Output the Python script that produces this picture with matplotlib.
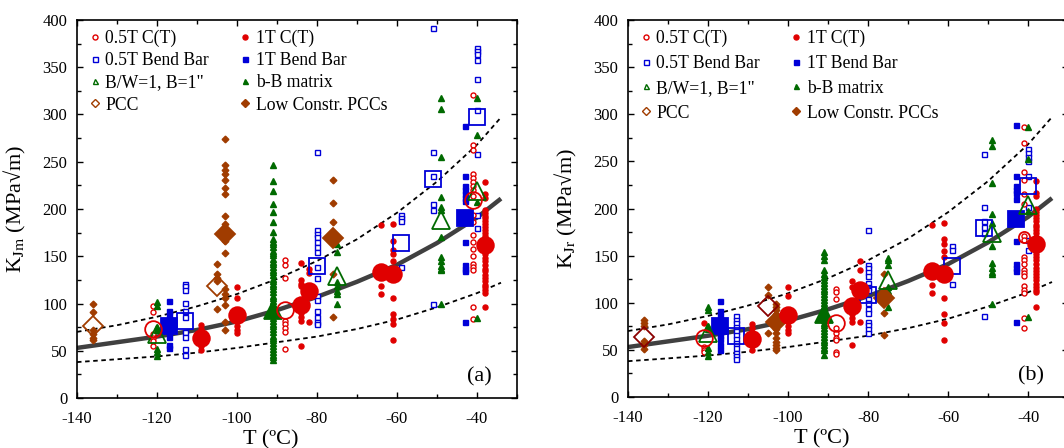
import numpy as np
import matplotlib
matplotlib.use("Agg")
import matplotlib.pyplot as plt
from matplotlib.lines import Line2D
from matplotlib.ticker import MultipleLocator

plt.rcParams["font.family"] = ["Liberation Serif", "DejaVu Serif"]
plt.rcParams["mathtext.fontset"] = "stix"
plt.rcParams["axes.unicode_minus"] = False

RED = "#e00000"
BLUE = "#0000d8"
GREEN = "#006a00"
BROWN = "#a03c00"
MAROON = "#8b0000"

# master curve and 5% / 95% bounds (every 10 C)
CURVE_T = [-140, -130, -120, -110, -100, -90, -80, -70, -60, -50, -40, -34]
MED_K = [53, 59, 65, 72, 81, 93, 107, 123, 141, 164, 191, 211]
UP_K = [70, 77, 86, 97, 110, 126, 145, 168, 196, 229, 268, 297]
LOW_K = [38, 41, 44, 48, 53, 59, 65, 73, 83, 96, 111, 122]

# ---- panel (a): K_Jm, columns of (T, [K values]) ----
A_CT05 = [(-121, [97, 91, 68, 64, 60, 55]),
          (-88, [146, 141, 127, 82, 78, 74, 70, 52]),
          (-41, [321, 268, 262, 237, 233, 229, 224, 220, 214, 194, 186, 172,
                 165, 158, 150, 142, 139, 135, 96, 84])]
A_CT1 = [(-109, [77, 73, 55, 51]),
         (-100, [117, 106, 76, 72, 69]),
         (-84, [143, 125, 121, 118, 90, 86, 82, 55]),
         (-82, [137, 132, 110, 80]),
         (-64, [183, 139, 130, 119, 110]),
         (-61, [184, 166, 157, 152, 145, 106, 89, 84, 78, 61]),
         (-38, [229, 216, 212, 199, 196, 193, 190, 187, 184, 181, 178, 175, 171,
                167, 164, 160, 156, 152, 148, 145, 141, 137, 134, 130, 127, 124,
                120, 117, 114, 111, 96])]
A_BB05 = [(-113, [121, 118, 114, 101, 92, 86, 70, 65, 52, 46]),
          (-80, [260, 178, 174, 170, 165, 160, 155, 139, 127, 108, 104, 92, 86, 80, 78]),
          (-59, [194, 190, 187, 139]),
          (-51, [392, 260, 235, 205, 199, 99]),
          (-40, [370, 367, 364, 358, 338, 305, 258, 194, 180])]
A_BB1 = [(-117, [103, 92, 88, 84, 80, 70, 65, 56, 53]),
         (-43, [288, 235, 224, 220, 216, 212, 208, 165, 141, 137, 134, 80])]
A_BW = [(-120, [102, 97, 75, 72, 52, 49, 44]),
        (-75, [163, 155, 123, 118, 113, 110, 99]),
        (-49, [317, 306, 255, 213, 202, 199, 170, 149, 145, 140, 137, 135, 100]),
        (-40, [317, 278, 207, 85])]
A_BBM = [(-91, [247, 230, 219, 205, 197, 186, 176, 168, 165, 163, 160, 156, 153,
                151, 147, 144, 142, 139, 135, 133, 130, 126, 124, 121, 118, 115,
                112, 108, 106, 103, 100, 97, 94, 91, 88, 85, 82, 78, 76, 73, 70,
                66, 64, 61, 58, 55, 52, 49, 46, 43, 40])]
A_PCC = [(-136, [99, 91, 72, 68, 64, 61]),
         (-105, [142, 131, 127, 124, 94])]
A_LC = [(-103, [274, 247, 241, 237, 231, 222, 216, 193, 184, 166, 153, 115, 110,
                106, 98, 80, 72]),
        (-76, [231, 206, 186, 131, 86])]

# large symbols (mean values) in panel (a)
A_CT05_M = [(-121, 73), (-88, 93), (-41, 210)]
A_CT1_M = [(-109, 63), (-100, 88), (-84, 98), (-82, 113), (-64, 133), (-61, 131), (-38, 162)]
A_BB05_M = [(-113, 82), (-80, 140), (-59, 164), (-51, 232), (-40, 297)]
A_BB1_M = [(-117, 76), (-43, 190)]
A_BW_M = [(-120, 68), (-75, 129), (-49, 188), (-40, 219)]
A_BBM_M = [(-91, 93)]
A_PCC_M = [(-136, 76), (-105, 118)]
A_LC_M = [(-103, 174), (-76, 169)]

# ---- panel (b): K_Jr ----
B_CT05 = [(-121, [53, 50, 48]),
          (-88, [115, 111, 104, 73, 68, 63, 60, 48, 46]),
          (-41, [287, 270, 239, 230, 215, 205, 171, 167, 149, 145, 141, 135, 132,
                 128, 118, 114, 110, 84, 73])]
B_CT1 = [(-121, [78]),
         (-109, [77, 73, 55, 50]),
         (-100, [117, 107, 75, 71, 68]),
         (-84, [123, 117, 88, 84, 80, 55]),
         (-82, [144, 135, 80]),
         (-64, [183, 138, 119, 110]),
         (-61, [185, 168, 162, 155, 149, 105, 88, 78, 61]),
         (-38, [229, 216, 213, 199, 196, 193, 190, 187, 183, 180, 177, 174, 170,
                167, 163, 160, 156, 152, 149, 145, 141, 137, 134, 130, 127, 124,
                120, 117, 114, 111, 96])]
B_BB05 = [(-113, [86, 82, 78, 74, 70, 66, 62, 57, 52, 47, 43, 40]),
          (-80, [177, 140, 137, 133, 128, 121, 117, 113, 104, 100, 93, 89, 80, 76, 72, 68]),
          (-59, [160, 156, 120]),
          (-51, [258, 202, 187, 180, 174, 86]),
          (-40, [263, 259, 255, 250, 234, 202, 167, 156])]
B_BB1 = [(-117, [102, 91, 86, 82, 78, 66, 62, 55, 50]),
         (-43, [289, 235, 224, 220, 216, 210, 165, 141, 137, 134, 80])]
B_BW = [(-120, [95, 92, 75, 72, 52, 48, 44]),
        (-75, [148, 145, 140, 117, 112, 96]),
        (-49, [273, 266, 227, 194, 185, 160, 142, 137, 133, 131, 99]),
        (-40, [287, 253, 197, 85])]
B_BBM = [(-91, [154, 150, 145, 135, 130, 127, 124, 121, 118, 115, 112, 109, 106,
                103, 100, 97, 94, 91, 88, 85, 82, 79, 76, 73, 70, 67, 64, 61, 58,
                55, 52, 50, 45])]
B_PCC = [(-136, [82, 78, 75, 59, 55, 51]),
         (-105, [117, 108, 68])]
B_LC = [(-103, [99, 95, 92, 88, 85, 80, 76, 72, 68, 63, 58, 55, 52, 50]),
        (-76, [131, 89, 66])]

B_CT05_M = [(-121, 63), (-88, 78), (-41, 170)]
B_CT1_M = [(-109, 62), (-100, 87), (-84, 97), (-82, 113), (-64, 134), (-61, 130), (-38, 162)]
B_BB05_M = [(-113, 65), (-80, 108), (-59, 139), (-51, 179), (-40, 224)]
B_BB1_M = [(-117, 75), (-43, 189)]
B_BW_M = [(-120, 68), (-75, 124), (-49, 174), (-40, 204)]
B_BBM_M = [(-91, 88)]
B_PCC_M = [(-136, 64), (-105, 97)]
B_LC_M = [(-103, 80), (-76, 105)]

LEGEND_LABELS = ["0.5T C(T)", "0.5T Bend Bar", 'B/W=1, B=1"', "PCC",
                 "1T C(T)", "1T Bend Bar", "b-B matrix", "Low Constr. PCCs"]


def expand(cols):
    t, k = [], []
    for temp, vals in cols:
        t += [temp] * len(vals)
        k += list(vals)
    return np.array(t), np.array(k)


def small(ax, cols, marker, color, filled, ms=3.6):
    t, k = expand(cols)
    ax.plot(t, k, ls="none", marker=marker, ms=ms, mec=color,
            mfc=color if filled else "white", mew=1.0, zorder=3)


def big(ax, pts, marker, color, filled, ms=11):
    t = [p[0] for p in pts]
    k = [p[1] for p in pts]
    ax.plot(t, k, ls="none", marker=marker, ms=ms, mec=color,
            mfc=color if filled else "none", mew=1.3, zorder=4)


def draw_panel(ax, d, pcc_big_color, ylabel, tag, legend_spacing):
    ax.plot(CURVE_T, MED_K, color="#404040", lw=3.2, zorder=2, solid_capstyle="butt")
    ax.plot(CURVE_T, UP_K, color="black", lw=1.3, ls=(0, (2.5, 2)), zorder=2)
    ax.plot(CURVE_T, LOW_K, color="black", lw=1.3, ls=(0, (2.5, 2)), zorder=2)

    small(ax, d["LC"], "D", BROWN, True, 3.4)
    small(ax, d["PCC"], "D", BROWN, True, 3.4)
    small(ax, d["BB05"], "s", BLUE, False)
    small(ax, d["BB1"], "s", BLUE, True)
    small(ax, d["CT05"], "o", RED, False)
    small(ax, d["CT1"], "o", RED, True)
    small(ax, d["BW"], "^", GREEN, True, 4.2)
    small(ax, d["BBM"], "^", GREEN, True, 4.2)

    big(ax, d["PCC_M"], "D", pcc_big_color, False, 10)
    big(ax, d["LC_M"], "D", BROWN, True, 10)
    big(ax, d["BB05_M"], "s", BLUE, False, 11)
    big(ax, d["BB1_M"], "s", BLUE, True, 11)
    big(ax, d["BBM_M"], "^", GREEN, True, 13)
    big(ax, d["BW_M"], "^", GREEN, False, 13)
    big(ax, d["CT05_M"][:2], "o", RED, False, 12)
    big(ax, d["CT05_M"][2:], "o", RED, False, d["CT05_last_ms"])
    big(ax, d["CT1_M"], "o", RED, True, 12)

    ax.set_xlim(-140, -30)
    ax.set_ylim(0, 400)
    ax.set_xticks(np.arange(-140, -39, 20))
    ax.set_yticks(np.arange(0, 401, 50))
    ax.xaxis.set_minor_locator(MultipleLocator(10))
    ax.yaxis.set_minor_locator(MultipleLocator(25))
    ax.tick_params(which="both", direction="in", top=True, right=True,
                   labelsize=12)
    ax.tick_params(axis="x", pad=9.5)
    ax.tick_params(axis="y", pad=7)
    ax.tick_params(which="major", length=4, width=1)
    ax.tick_params(which="minor", length=3, width=1)
    for sp in ax.spines.values():
        sp.set_linewidth(1.2)

    ax.set_xlabel("T (ºC)", fontsize=16)
    ax.set_ylabel(ylabel, fontsize=16)
    ax.yaxis.set_label_coords(-0.112, 0.5)
    ax.xaxis.set_label_coords(0.44, -0.085)
    ax.text(0.915, 0.055, tag, transform=ax.transAxes, fontsize=16,
            ha="center", va="center")

    specs = [("o", RED, False), ("s", BLUE, False), ("^", GREEN, False),
             ("D", BROWN, False), ("o", RED, True), ("s", BLUE, True),
             ("^", GREEN, True), ("D", BROWN, True)]
    handles = [Line2D([], [], ls="none", marker=m, ms=3.6, mec=c,
                      mfc=c if f else "white", mew=1.0) for m, c, f in specs]
    ax.legend(handles, LEGEND_LABELS, ncol=2, loc="upper left",
              bbox_to_anchor=(0.03, 0.975), frameon=False, fontsize=12.7,
              handlelength=0.5, handletextpad=0.35, columnspacing=1.8,
              labelspacing=legend_spacing, borderpad=0, borderaxespad=0)


panel_a = dict(CT05=A_CT05, CT1=A_CT1, BB05=A_BB05, BB1=A_BB1, BW=A_BW, BBM=A_BBM,
               PCC=A_PCC, LC=A_LC, CT05_M=A_CT05_M, CT1_M=A_CT1_M, BB05_M=A_BB05_M,
               BB1_M=A_BB1_M, BW_M=A_BW_M, BBM_M=A_BBM_M, PCC_M=A_PCC_M, LC_M=A_LC_M,
               CT05_last_ms=12)
panel_b = dict(CT05=B_CT05, CT1=B_CT1, BB05=B_BB05, BB1=B_BB1, BW=B_BW, BBM=B_BBM,
               PCC=B_PCC, LC=B_LC, CT05_M=B_CT05_M, CT1_M=B_CT1_M, BB05_M=B_BB05_M,
               BB1_M=B_BB1_M, BW_M=B_BW_M, BBM_M=B_BBM_M, PCC_M=B_PCC_M, LC_M=B_LC_M,
               CT05_last_ms=8)

fig = plt.figure(figsize=(10.64, 4.48), dpi=100)
ax1 = fig.add_axes([77 / 1064, 50 / 448, 440 / 1064, 378 / 448])
ax2 = fig.add_axes([628 / 1064, 51 / 448, 440 / 1064, 377 / 448])

draw_panel(ax1, panel_a, BROWN, "K$_{\\mathrm{Jm}}$ (MPa\u221am)", "(a)", 0.3)
draw_panel(ax2, panel_b, MAROON, "K$_{\\mathrm{Jr}}$ (MPa\u221am)", "(b)", 0.45)

fig.savefig("out.png", dpi=100)
